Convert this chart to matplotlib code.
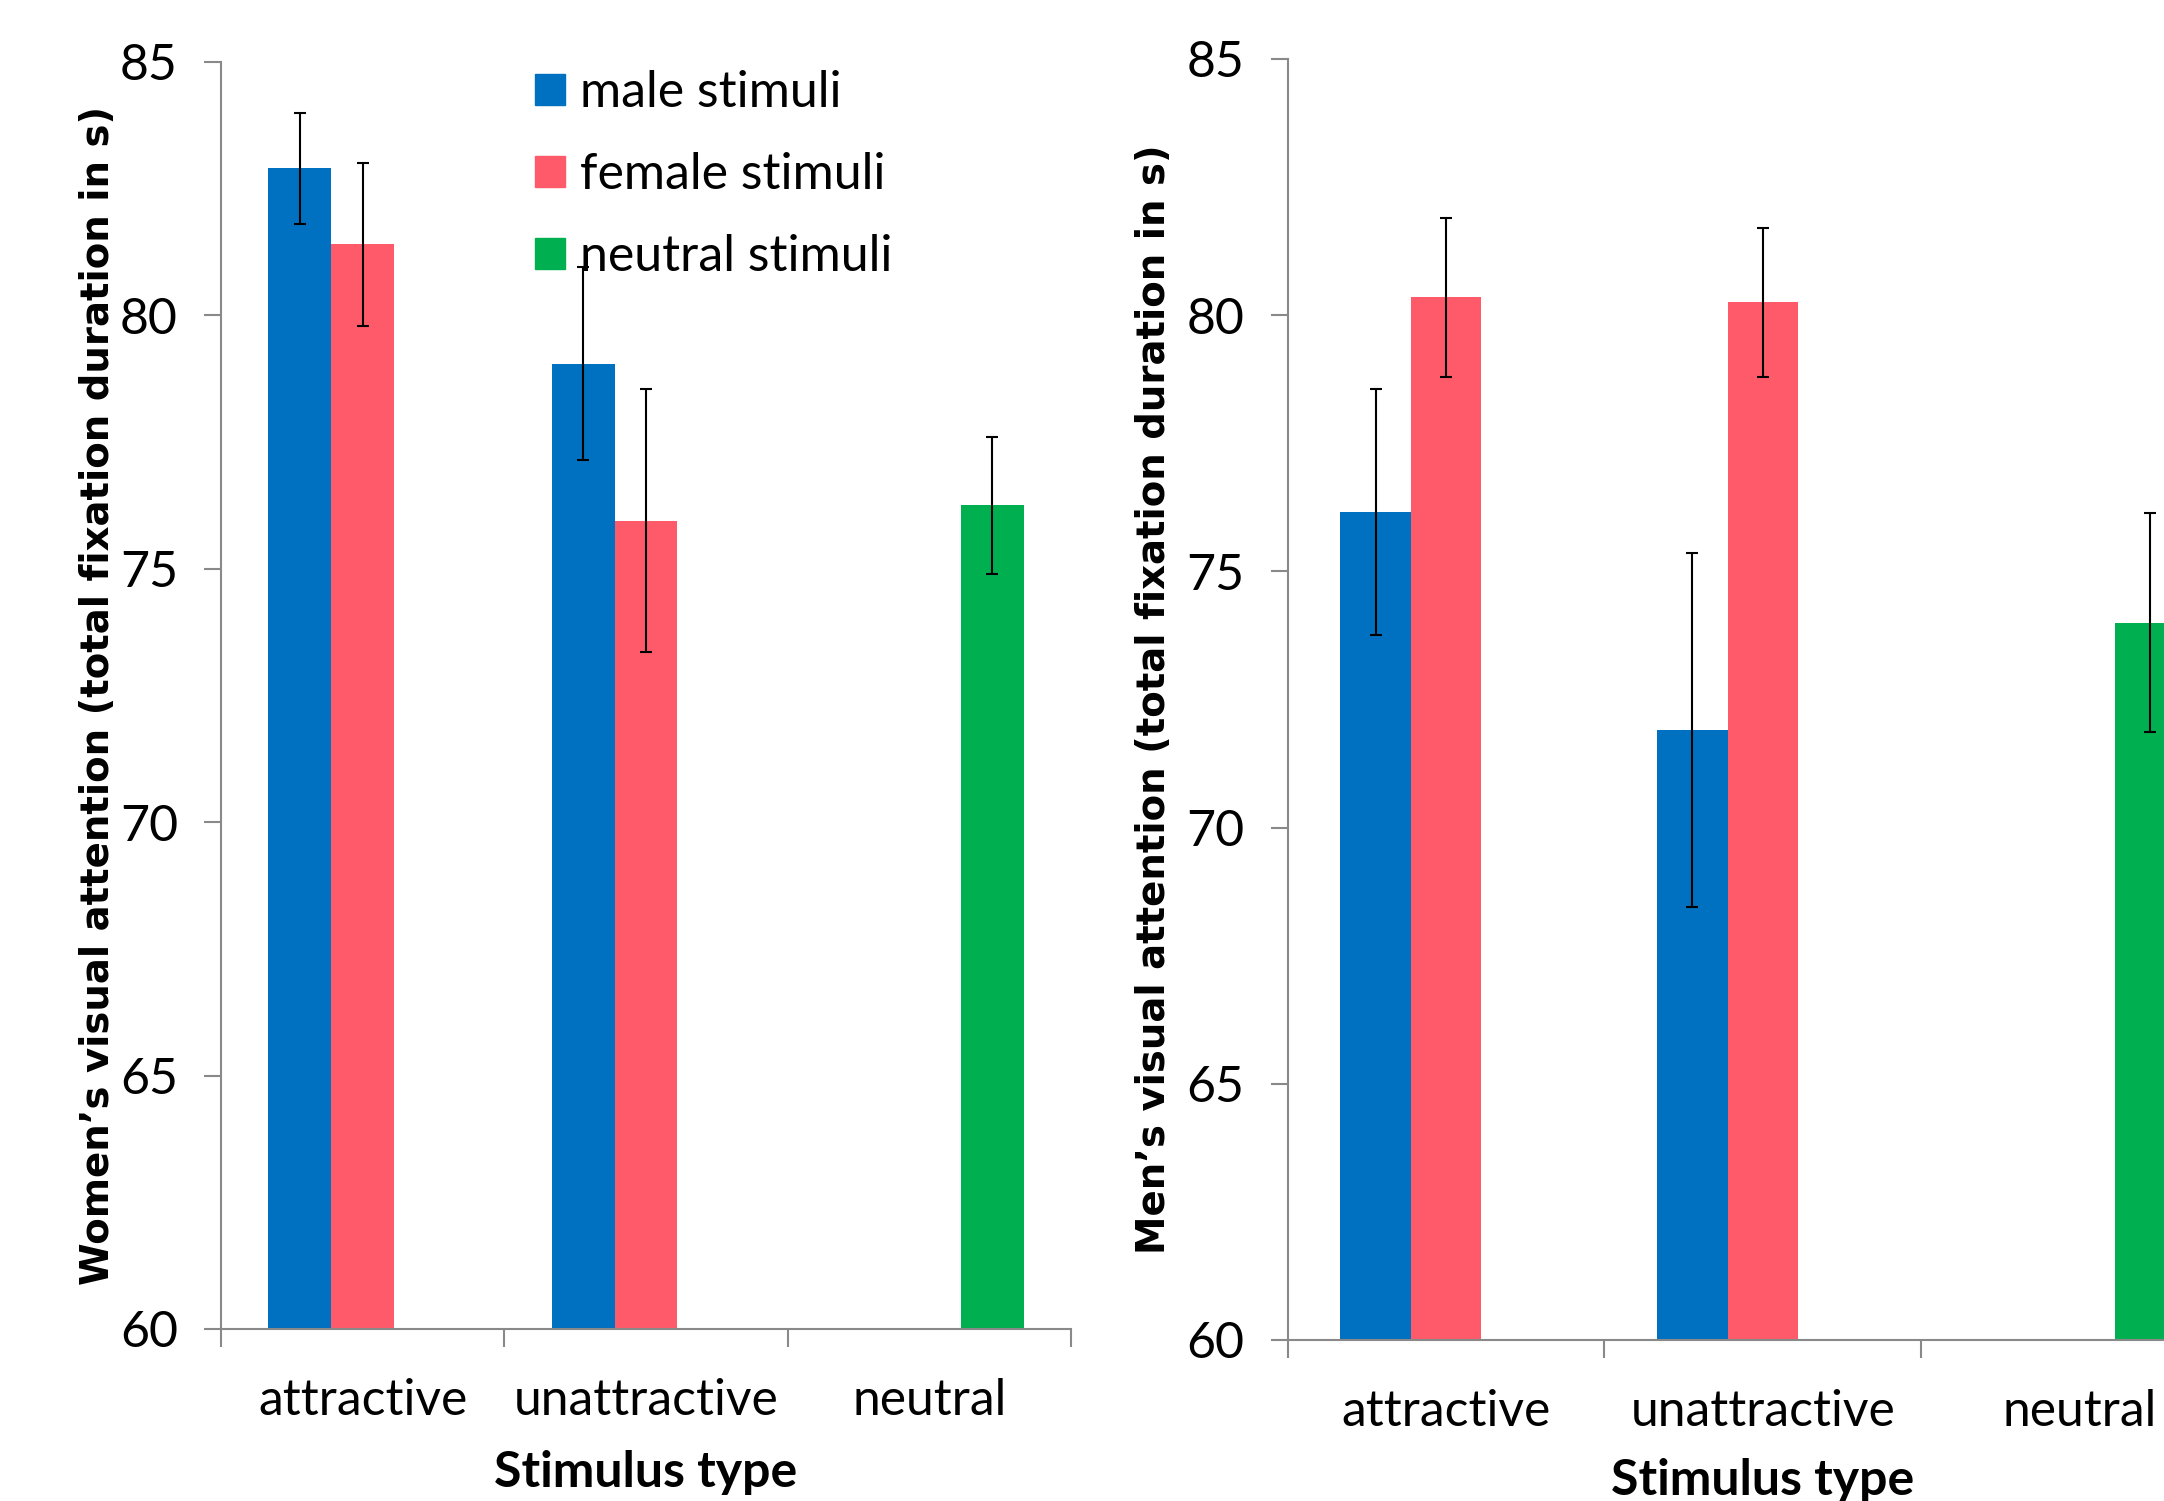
import matplotlib
matplotlib.use("Agg")
import matplotlib.pyplot as plt
from matplotlib.patches import Patch
import numpy as np

categorias = ['attractive', 'unattractive', 'neutral']
series = ['male stimuli', 'female stimuli', 'neutral stimuli']
colores = ['#0070C0', '#FF5A69', '#00B050']

# women (left panel)
mujeres_male = [82.9, 79.05, np.nan]
mujeres_female = [81.4, 75.95, np.nan]
mujeres_neutral = [np.nan, np.nan, 76.25]
mujeres_err_male = [1.1, 1.9, np.nan]
mujeres_err_female = [1.6, 2.6, np.nan]
mujeres_err_neutral = [np.nan, np.nan, 1.35]

# men (right panel)
hombres_male = [76.15, 71.9, np.nan]
hombres_female = [80.35, 80.25, np.nan]
hombres_neutral = [np.nan, np.nan, 74.0]
hombres_err_male = [2.4, 3.45, np.nan]
hombres_err_female = [1.55, 1.45, np.nan]
hombres_err_neutral = [np.nan, np.nan, 2.13]

fuente = 'Lato'
gris = '#898989'

fig = plt.figure(figsize=(21.64, 15.01), dpi=100)
ax1 = fig.add_axes([221/2164, 172/1501, 850/2164, 1267/1501])
ax2 = fig.add_axes([1287.6/2164, 161/1501, 950.2/2164, 1281/1501])


def panel(ax, valores, errores, ylabel):
    x = np.arange(len(categorias))
    w = 1/4.5
    for k in range(3):
        ax.bar(x + (k-1)*w, valores[k], w, color=colores[k], zorder=2)
        ax.errorbar(x + (k-1)*w, valores[k], yerr=errores[k], fmt='none',
                    ecolor='black', elinewidth=1.5, capsize=4.3, capthick=1.5, zorder=3)
    ax.set_xlim(-0.5, 2.5)
    ax.set_ylim(60, 85)
    ax.set_yticks([60, 65, 70, 75, 80, 85])
    ax.set_xticks([-0.5, 0.5, 1.5, 2.5])
    ax.set_xticklabels([])
    ax.set_xticks(x, minor=True)
    ax.set_xticklabels(categorias, minor=True, fontsize=35.8, family=fuente)
    ax.tick_params(axis='x', which='minor', length=0, pad=35)
    ax.tick_params(axis='x', which='major', length=13, width=1.5, color=gris)
    ax.tick_params(axis='y', length=12, width=1.5, color=gris, pad=19, labelsize=36)
    for lab in ax.get_yticklabels():
        lab.set_family(fuente)
    for s in ['top', 'right']:
        ax.spines[s].set_visible(False)
    for s in ['left', 'bottom']:
        ax.spines[s].set_color(gris)
        ax.spines[s].set_linewidth(1.5)
    ax.set_ylabel(ylabel, fontsize=27.8, fontweight='bold', family='DejaVu Sans')
    ax.set_xlabel('Stimulus type', fontsize=36, fontweight='bold', family=fuente)


panel(ax1, [mujeres_male, mujeres_female, mujeres_neutral],
      [mujeres_err_male, mujeres_err_female, mujeres_err_neutral],
      'Women’s visual attention (total fixation duration in s)')
panel(ax2, [hombres_male, hombres_female, hombres_neutral],
      [hombres_err_male, hombres_err_female, hombres_err_neutral],
      'Men’s visual attention (total fixation duration in s)')

ax1.yaxis.set_label_coords(-0.1224, 0.5)
ax2.yaxis.set_label_coords(-0.1206, 0.5)
ax1.xaxis.set_label_coords(0.5, -0.0955)
ax2.xaxis.set_label_coords(0.5, -0.092)

handles = [Patch(color=c) for c in colores]
fig.legend(handles, series, loc='upper left', bbox_to_anchor=(535/2164, 1 - 70/1501),
           frameon=False, prop={'family': fuente, 'size': 36}, handlelength=0.6,
           handleheight=0.6, handletextpad=0.3, labelspacing=0.72,
           borderpad=0, borderaxespad=0)

fig.savefig('out.png', dpi=100)
